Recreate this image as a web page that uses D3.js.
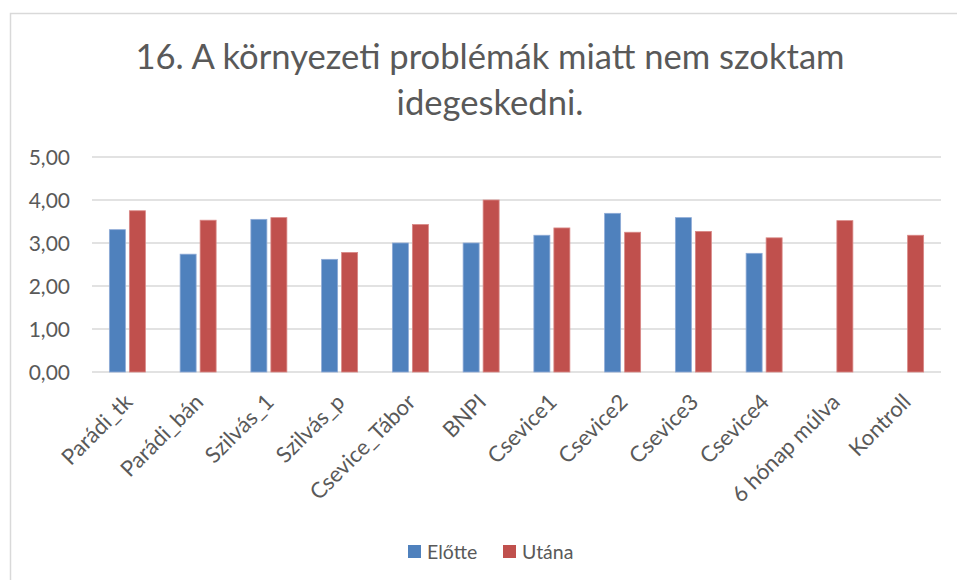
<!DOCTYPE html>
<html>
<head>
<meta charset="utf-8">
<script src="https://cdn.jsdelivr.net/npm/d3@7"></script>
<style>
  body { margin: 0; background: #fff; }
  svg text { font-family: Lato, "Liberation Sans", sans-serif; fill: #595959; }
</style>
</head>
<body>
<svg width="957" height="580"></svg>
<script>
var categories = ["Parádi_tk", "Parádi_bán", "Szilvás_1", "Szilvás_p", "Csevice_Tábor", "BNPI",
  "Csevice1", "Csevice2", "Csevice3", "Csevice4", "6 hónap múlva", "Kontroll"];
var seriesNames = ["Előtte", "Utána"];
var elotte = [3.31, 2.74, 3.55, 2.62, 3.00, 3.00, 3.18, 3.69, 3.59, 2.76, null, null];
var utana = [3.75, 3.53, 3.59, 2.78, 3.43, 4.00, 3.35, 3.25, 3.27, 3.12, 3.52, 3.18];
var yTicks = [0, 1, 2, 3, 4, 5];
var colors = ["#4F81BD", "#C0504D"];

var svg = d3.select("svg"),
    plotLeft = 92, plotRight = 941, plotTop = 157, plotBottom = 372;

svg.append("rect")
    .attr("x", 10.5).attr("y", 13.5)
    .attr("width", 980).attr("height", 600)
    .attr("fill", "#fff").attr("stroke", "#d9d9d9").attr("stroke-width", 1.5);

var title = svg.append("text")
    .attr("text-anchor", "middle")
    .style("font-size", "34.6px");
title.append("tspan").attr("x", 490).attr("y", 69).text("16. A környezeti problémák miatt nem szoktam");
title.append("tspan").attr("x", 490).attr("y", 115).text("idegeskedni.");

var x = d3.scaleBand().domain(categories).range([plotLeft, plotRight]).padding(0);
var x1 = d3.scaleBand().domain(seriesNames)
    .range([x.bandwidth() / 2 - 18, x.bandwidth() / 2 + 18]).paddingInner(0.2);
var y = d3.scaleLinear().domain([0, 5]).range([plotBottom, plotTop]);

// gridlines
svg.append("g").selectAll("line").data(yTicks).enter().append("line")
    .attr("x1", plotLeft).attr("x2", plotRight)
    .attr("y1", function (d) { return y(d); }).attr("y2", function (d) { return y(d); })
    .attr("stroke", "#d9d9d9").attr("stroke-width", 1.5);

// y labels
svg.append("g").selectAll("text").data(yTicks).enter().append("text")
    .attr("x", 70).attr("y", function (d) { return y(d); })
    .attr("dy", "0.36em")
    .attr("text-anchor", "end")
    .style("font-size", "21px")
    .text(function (d) { return d3.format(".2f")(d).replace(".", ","); });

var rows = categories.map(function (c, i) { return { cat: c, vals: [elotte[i], utana[i]] }; });

var groups = svg.append("g").selectAll("g").data(rows).enter().append("g")
    .attr("transform", function (d) { return "translate(" + x(d.cat) + ",0)"; });

groups.selectAll("rect")
    .data(function (d) {
      return d.vals.map(function (v, k) { return { name: seriesNames[k], value: v, k: k }; })
        .filter(function (e) { return e.value != null; });
    })
    .enter().append("rect")
    .attr("x", function (d) { return x1(d.name); })
    .attr("width", x1.bandwidth())
    .attr("y", function (d) { return y(d.value); })
    .attr("height", function (d) { return y(0) - y(d.value); })
    .attr("fill", function (d) { return colors[d.k]; })
    .attr("stroke", function (d) { return d.k === 0 ? "#8eaad6" : "#d98886"; })
    .attr("stroke-width", 0.8);

// x labels
svg.append("g").selectAll("text").data(categories).enter().append("text")
    .attr("transform", function (d) {
      return "translate(" + (x(d) + x.bandwidth() / 2 + 1) + "," + (plotBottom + 26) + ") rotate(-45)";
    })
    .attr("text-anchor", "end")
    .attr("dy", "0.35em")
    .style("font-size", "22px")
    .text(function (d) { return d; });

// legend
var legend = svg.append("g").selectAll("g").data(seriesNames).enter().append("g")
    .attr("transform", function (d, i) { return "translate(" + (408 + i * 95) + ",545)"; });
legend.append("rect").attr("width", 13).attr("height", 13)
    .attr("fill", function (d, i) { return colors[i]; });
legend.append("text").attr("x", 19).attr("y", 6.5).attr("dy", "0.36em")
    .style("font-size", "19.5px")
    .text(function (d) { return d; });
</script>
</body>
</html>
